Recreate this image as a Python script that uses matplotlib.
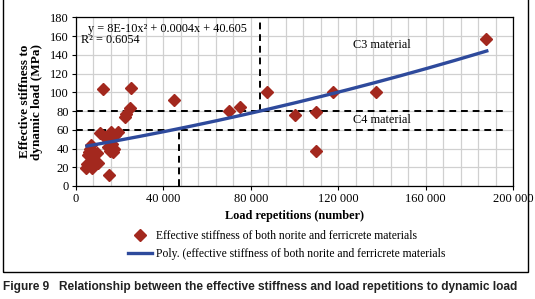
import numpy as np
import matplotlib
matplotlib.use('Agg')
import matplotlib.pyplot as plt
from matplotlib.patches import Rectangle
from matplotlib.ticker import MultipleLocator, FuncFormatter

plt.rcParams['font.family'] = ['Liberation Serif', 'DejaVu Serif']

# load repetitions vs effective stiffness
load = [4500, 5000, 5500, 6000, 6500, 7000, 7500, 8000, 8500, 9500,
        10000, 11000, 12500, 13500, 14500, 14500, 15000, 15500, 16000, 16500,
        17000, 17500, 18000, 19000, 22500, 23000, 24500, 25000, 45000, 70000,
        75000, 87500, 100000, 110000, 110000, 117500, 137500, 187500]
stiffness = [19, 24, 33, 36, 40, 44, 19, 29, 27, 35,
             25, 57, 103, 52, 42, 49, 12, 37, 58, 45,
             36, 40, 54, 58, 74, 77, 83, 105, 92, 80,
             84, 100, 76, 79, 37, 100, 100, 157]

# trendline from the chart (Excel poly fit)
coef = [8e-10, 0.0004, 40.605]
trend_start, trend_end = 5000, 188000

# C3 / C4 limits
c3_limit = 80
c4_limit = 60
c3_load = 84000
c4_load = 47000

fig = plt.figure(figsize=(5.35, 2.99), dpi=100)
ax = fig.add_axes([76/535, 1-186/299, (513-76)/535, (186-17.3)/299])

ax.set_xlim(0, 200000)
ax.set_ylim(0, 180)
ax.xaxis.set_major_locator(MultipleLocator(40000))
ax.xaxis.set_minor_locator(MultipleLocator(8000))
ax.yaxis.set_major_locator(MultipleLocator(20))
ax.xaxis.set_major_formatter(FuncFormatter(lambda v, p: '{:,.0f}'.format(v).replace(',', ' ')))
ax.grid(which='major', color='#d0d0d0', lw=0.9)
ax.grid(which='minor', axis='x', color='#d0d0d0', lw=0.9)
ax.set_axisbelow(True)
ax.tick_params(labelsize=9, length=3, width=0.8, pad=2)
ax.tick_params(which='minor', length=0)
for s in ax.spines.values():
    s.set_linewidth(0.9)

# dashed limit lines
dash = dict(color='black', lw=1.4, ls=(0, (3.5, 2.5)), zorder=2)
ax.plot([0, 197000], [c3_limit, c3_limit], **dash)
ax.plot([0, 197000], [c4_limit, c4_limit], **dash)
ax.plot([c3_load, c3_load], [c3_limit, 180], **dash)
ax.plot([c4_load, c4_load], [0, c4_limit], **dash)

ax.plot(load, stiffness, 'D', color='#a3281e', ms=6.5, ls='none', zorder=3,
        label='Effective stiffness of both norite and ferricrete materials')
xt = np.linspace(trend_start, trend_end, 200)
ax.plot(xt, np.polyval(coef, xt), color='#2e4a9c', lw=2.4, zorder=4,
        label='Poly. (effective stiffness of both norite and ferricrete materials')

ax.text(5500, 174, 'y = 8E-10x² + 0.0004x + 40.605', fontsize=8.8, va='top')
ax.text(2500, 162, 'R² = 0.6054', fontsize=8.8, va='top')
ax.text(140000, 150, 'C3 material', fontsize=8.8, ha='center', va='center')
ax.text(140000, 70, 'C4 material', fontsize=8.8, ha='center', va='center')

ax.set_xlabel('Load repetitions (number)', fontsize=8.8, fontweight='bold', labelpad=4)
ax.set_ylabel('Effective stiffness to\ndynamic load (MPa)', fontsize=9.5,
              fontweight='bold', labelpad=5, linespacing=1.0)

fig.legend(loc='center', bbox_to_anchor=(287/535, 1-245/299), frameon=False,
           fontsize=8.4, handlelength=2.0, handletextpad=0.4, labelspacing=0.5,
           borderpad=0)

# outer frame and caption
fig.patches.append(Rectangle((3/535, 1-272/299), (528-3)/535, 272/299 + 0.05,
                             transform=fig.transFigure, fill=False,
                             edgecolor='black', lw=1.0))
fig.text(3/535, 1-287/299,
         'Figure 9   Relationship between the effective stiffness and load repetitions to dynamic load',
         family=['Liberation Sans', 'DejaVu Sans'], fontweight='bold',
         fontsize=8.6, color='#222222', va='center', ha='left')

fig.savefig('out.png', dpi=100)
